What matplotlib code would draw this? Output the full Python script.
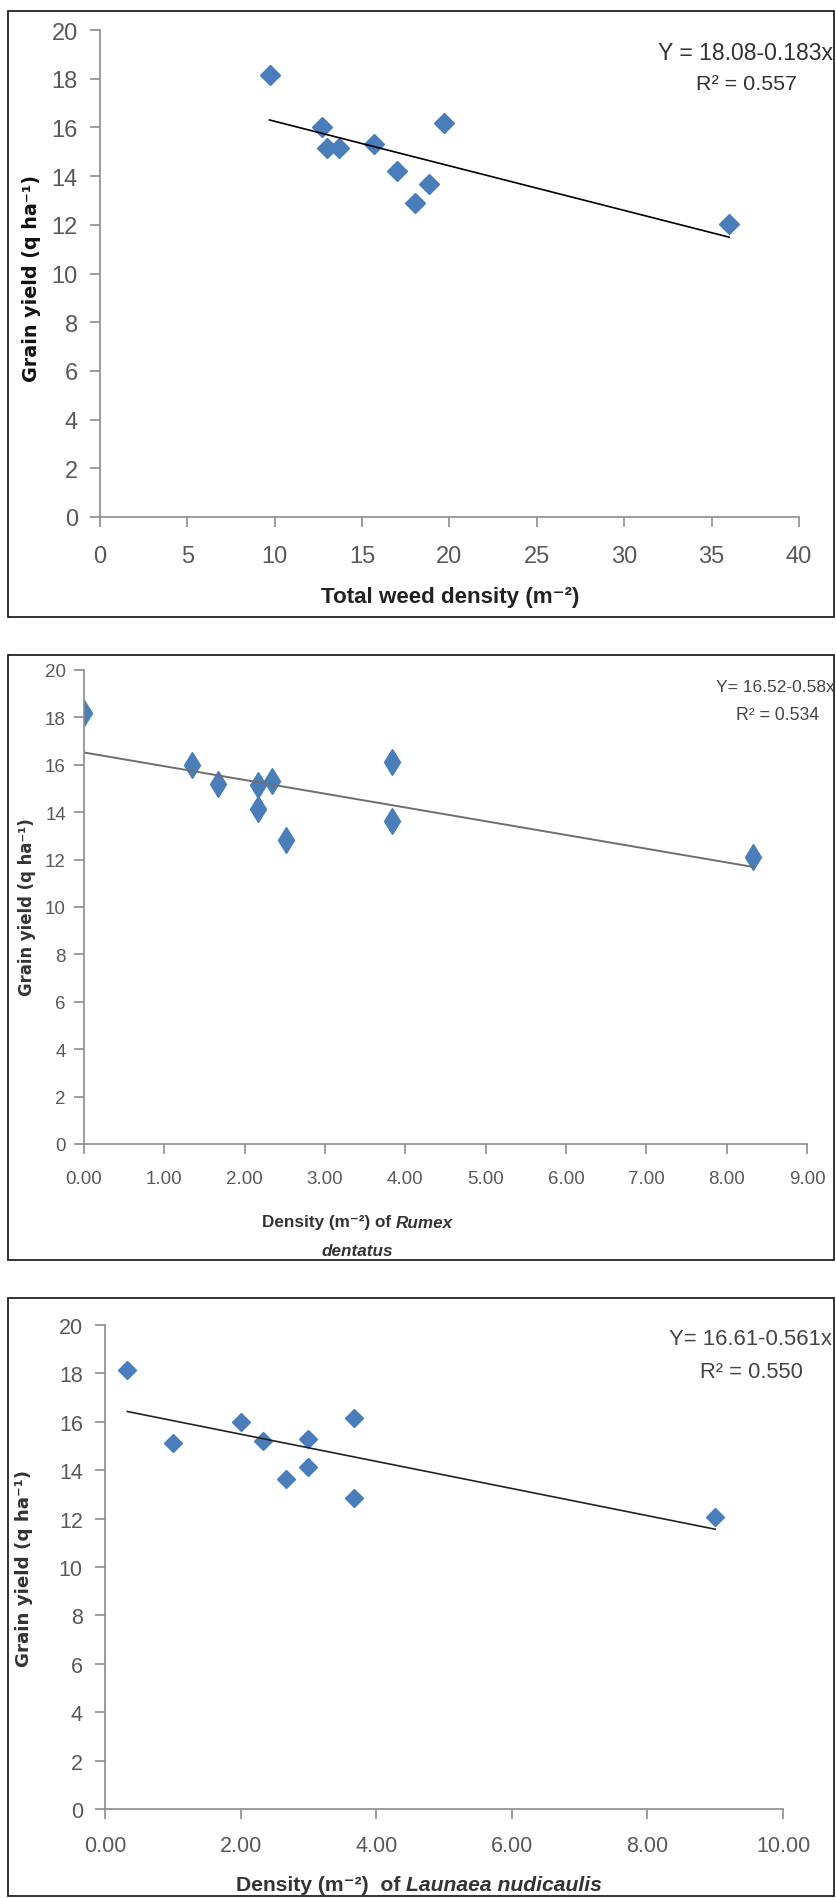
import matplotlib
matplotlib.use("Agg")
import matplotlib.pyplot as plt
from matplotlib.patches import Rectangle
from matplotlib import font_manager as fm

names = set(f.name for f in fm.fontManager.ttflist)
NARROW = "Liberation Sans Narrow" if "Liberation Sans Narrow" in names else "Liberation Sans"
FAM = [NARROW, "DejaVu Sans"]

# panel 1: total weed density
total_x = [9.7, 12.7, 13.0, 13.7, 15.7, 17.0, 18.0, 18.8, 19.7, 36.0]
total_y = [18.17, 16.03, 15.15, 15.15, 15.31, 14.19, 12.89, 13.69, 16.2, 12.05]
# panel 2: Rumex dentatus
rumex_x = [0.0, 1.35, 1.67, 2.17, 2.34, 2.17, 2.51, 3.84, 3.84, 8.33]
rumex_y = [18.17, 16.0, 15.21, 15.16, 15.3, 14.13, 12.83, 16.13, 13.63, 12.09]
# panel 3: Launaea nudicaulis
laun_x = [0.33, 1.0, 2.0, 2.33, 2.67, 3.0, 3.0, 3.67, 3.67, 9.0]
laun_y = [18.16, 15.13, 16.0, 15.2, 13.65, 15.3, 14.12, 16.17, 12.84, 12.08]

fits = [(18.08, -0.183), (16.52, -0.58), (16.61, -0.561)]
eq_text = ["Y = 18.08-0.183x", "Y= 16.52-0.58x", "Y= 16.61-0.561x"]
r2_text = ["R² = 0.557", "R² = 0.534", "R² = 0.550"]
ylab = "Grain yield (q ha⁻¹)"
yticks = list(range(0, 21, 2))
xticks1 = list(range(0, 41, 5))
xticks2 = [0, 1, 2, 3, 4, 5, 6, 7, 8, 9]
xticks3 = [0, 2, 4, 6, 8, 10]

W, H = 837, 1899
fig = plt.figure(figsize=(W / 100, H / 100), dpi=100)
renderer = fig.canvas.get_renderer()

BLUE = "#4a7ebb"
AX = "#8c8c8c"
TXT = "#595959"


def fx(px):
    return px / W


def fy(py):
    return 1 - py / H


def fit(t, target, vertical=False):
    # rescale font so the text spans about `target` pixels
    for _ in range(3):
        bb = t.get_window_extent(renderer)
        size = bb.height if vertical else bb.width
        t.set_fontsize(t.get_fontsize() * target / size)
    return t


def parts_text(xc, y, parts, target, **kw):
    # upright + italic pieces on one line, centred on xc, total width ~ target px
    ts = [fig.text(0, fy(y), s, ha="left", va="center", fontstyle=st, **kw) for s, st in parts]
    for _ in range(3):
        total = sum(t.get_window_extent(renderer).width for t in ts)
        for t in ts:
            t.set_fontsize(t.get_fontsize() * target / total)
    widths = [t.get_window_extent(renderer).width for t in ts]
    x = xc - sum(widths) / 2
    for t, w in zip(ts, widths):
        t.set_x(fx(x))
        x += w
    return ts


def box(top, bottom):
    fig.patches.append(Rectangle((fx(8), fy(bottom)), fx(826), (bottom - top) / H,
                                 transform=fig.transFigure, fill=False,
                                 edgecolor="#222222", linewidth=1.3))


def make_ax(left, right, top, bottom):
    ax = fig.add_axes([fx(left), fy(bottom), (right - left) / W, (bottom - top) / H])
    for s in ["top", "right"]:
        ax.spines[s].set_visible(False)
    for s in ["left", "bottom"]:
        ax.spines[s].set_color(AX)
        ax.spines[s].set_linewidth(1.2)
    ax.tick_params(direction="out", length=7, width=1.2, color=AX, labelcolor=TXT)
    return ax


box(12, 618)
box(656, 1261)
box(1299, 1897)

# ---- panel 1
ax1 = make_ax(100, 799, 31, 518)
ax1.plot(total_x, total_y, "D", color=BLUE, ms=10, mec=BLUE)
xs = [min(total_x), max(total_x)]
ax1.plot(xs, [fits[0][0] + fits[0][1] * v for v in xs], color="black", lw=1.2)
ax1.set_xlim(0, 40)
ax1.set_ylim(0, 20)
ax1.set_xticks(xticks1)
ax1.set_yticks(yticks)
ax1.set_xticklabels([str(v) for v in xticks1], fontsize=17, family=NARROW, color=TXT)
ax1.set_yticklabels([str(v) for v in yticks], fontsize=17, family=NARROW, color=TXT)
ax1.xaxis.set_tick_params(pad=13)
ax1.yaxis.set_tick_params(pad=9)
t = fig.text(fx(32), fy(278), ylab, rotation=90, ha="center", va="center",
             fontsize=12, fontweight="bold", family="DejaVu Sans", color="#111111")
fit(t, 207, vertical=True)
t = fig.text(fx(450), fy(598), "Total weed density (m⁻²)", ha="center", va="center",
             fontsize=16, fontweight="bold", family=FAM, color="#222222")
fit(t, 259)
t = fig.text(fx(833), fy(53), eq_text[0], ha="right", va="center", fontsize=16, family=FAM, color="#333333")
fit(t, 175)
t = fig.text(fx(747), fy(84), r2_text[0], ha="center", va="center", fontsize=16, family=FAM, color="#333333")
fit(t, 101)

# ---- panel 2
ax2 = make_ax(84, 807, 671, 1145)
ax2.plot(rumex_x, rumex_y, "d", color=BLUE, ms=13, mec=BLUE)
xs = [min(rumex_x), max(rumex_x)]
ax2.plot(xs, [fits[1][0] + fits[1][1] * v for v in xs], color="#6e6e6e", lw=1.4)
ax2.set_xlim(0, 9)
ax2.set_ylim(0, 20)
ax2.set_xticks(xticks2)
ax2.set_yticks(yticks)
ax2.set_xticklabels(["%.2f" % v for v in xticks2], fontsize=13.5, family=NARROW, color=TXT)
ax2.set_yticklabels([str(v) for v in yticks], fontsize=13.5, family=NARROW, color=TXT)
ax2.xaxis.set_tick_params(pad=12)
ax2.yaxis.set_tick_params(pad=6)
t = fig.text(fx(27), fy(907), ylab, rotation=90, ha="center", va="center",
             fontsize=10, fontweight="bold", family="DejaVu Sans", color="#333333")
fit(t, 178, vertical=True)
ts = parts_text(357, 1223, [("Density (m⁻²) of ", "normal"), ("Rumex", "italic")], 191,
                fontsize=12, fontweight="bold", family=FAM, color="#333333")
fig.text(fx(357), fy(1251), "dentatus", ha="center", va="center", fontstyle="italic",
         fontsize=ts[0].get_fontsize(), fontweight="bold", family=FAM, color="#333333")
t = fig.text(fx(835), fy(687), eq_text[1], ha="right", va="center", fontsize=13.5, family=FAM, color="#444444")
fit(t, 118)
t = fig.text(fx(778), fy(715), r2_text[1], ha="center", va="center", fontsize=13, family=FAM, color="#444444")
fit(t, 83)

# ---- panel 3
ax3 = make_ax(105, 783, 1326, 1810)
ax3.plot(laun_x, laun_y, "D", color=BLUE, ms=9.5, mec=BLUE)
xs = [min(laun_x), max(laun_x)]
ax3.plot(xs, [fits[2][0] + fits[2][1] * v for v in xs], color="#222222", lw=1.2)
ax3.set_xlim(0, 10)
ax3.set_ylim(0, 20)
ax3.set_xticks(xticks3)
ax3.set_yticks(yticks)
ax3.set_xticklabels(["%.2f" % v for v in xticks3], fontsize=15.5, family=NARROW, color=TXT)
ax3.set_yticklabels([str(v) for v in yticks], fontsize=15.5, family=NARROW, color=TXT)
ax3.xaxis.set_tick_params(pad=12)
ax3.yaxis.set_tick_params(pad=9)
t = fig.text(fx(24), fy(1568), ylab, rotation=90, ha="center", va="center",
             fontsize=11, fontweight="bold", family="DejaVu Sans", color="#333333")
fit(t, 197, vertical=True)
parts_text(419, 1886, [("Density (m⁻²)  of ", "normal"), ("Launaea nudicaulis", "italic")], 368,
           fontsize=15, fontweight="bold", family=FAM, color="#333333")
t = fig.text(fx(832), fy(1340), eq_text[2], ha="right", va="center", fontsize=15, family=FAM, color="#444444")
fit(t, 164)
t = fig.text(fx(751), fy(1372), r2_text[2], ha="center", va="center", fontsize=15, family=FAM, color="#444444")
fit(t, 103)

fig.savefig("out.png", dpi=100)
